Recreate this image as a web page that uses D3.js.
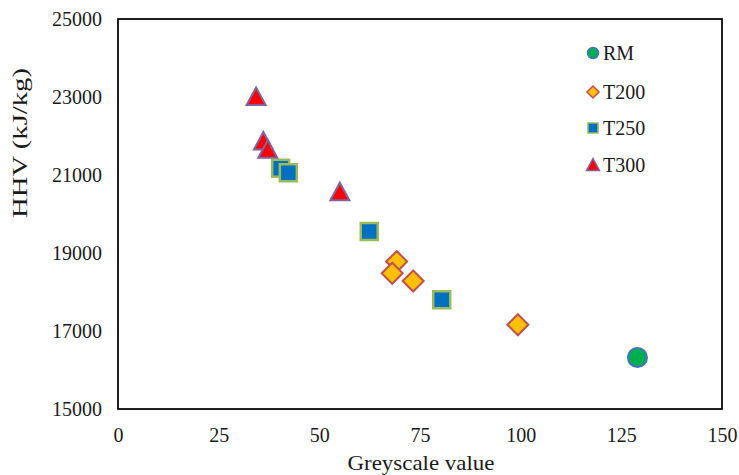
<!DOCTYPE html>
<html>
<head>
<meta charset="utf-8">
<script src="https://cdn.jsdelivr.net/npm/d3@7"></script>
<style>
  body { margin: 0; background: #fff; }
  svg { display: block; font-family: "Liberation Serif", "Times New Roman", serif; }
</style>
</head>
<body>
<svg id="chart" width="739" height="475"></svg>
<script>
// Greyscale value vs higher heating value for raw and torrefied samples
const seriesNames = ["RM", "T200", "T250", "T300"];
const rmX = [129.0];
const rmY = [16320];
const t200X = [99.3, 69.2, 68.1, 73.3];
const t200Y = [17160, 18780, 18480, 18280];
const t250X = [62.4, 80.4, 40.4, 42.3];
const t250Y = [19550, 17800, 21170, 21060];
const t300X = [34.3, 36.1, 37.2, 55.1];
const t300Y = [23000, 21860, 21650, 20560];
const xTicks = [0, 25, 50, 75, 100, 125, 150];
const yTicks = [15000, 17000, 19000, 21000, 23000, 25000];

const svg = d3.select("#chart");
const plotLeft = 118, plotRight = 722, plotTop = 19, plotBottom = 409;

const x = d3.scaleLinear().domain([0, 150]).range([plotLeft, plotRight]);
const y = d3.scaleLinear().domain([15000, 25000]).range([plotBottom, plotTop]);

// marker shape builders (path strings centred on 0,0, r = half-size)
const shapes = {
  circle: r => `M${-r},0A${r},${r} 0 1,0 ${r},0A${r},${r} 0 1,0 ${-r},0Z`,
  diamond: r => `M0,${-r}L${r},0L0,${r}L${-r},0Z`,
  square: r => `M${-r},${-r}H${r}V${r}H${-r}Z`,
  triangle: r => `M0,${-r}L${r},${r * 0.85}L${-r},${r * 0.85}Z`
};

const styles = {
  RM:   { shape: "circle",   fill: "#00B050", stroke: "#4472C4", r: 9.5, lr: 5.5, sw: 2 },
  T200: { shape: "diamond",  fill: "#FFC000", stroke: "#C0504D", r: 10.5, lr: 6, sw: 2 },
  T250: { shape: "square",   fill: "#0070C0", stroke: "#9BBB59", r: 8.5, lr: 5, sw: 2.5 },
  T300: { shape: "triangle", fill: "#FF0000", stroke: "#8064A2", r: 9.5, lr: 6.5, sw: 2 }
};

const seriesData = {
  RM: rmX.map((v, i) => [v, rmY[i]]),
  T200: t200X.map((v, i) => [v, t200Y[i]]),
  T250: t250X.map((v, i) => [v, t250Y[i]]),
  T300: t300X.map((v, i) => [v, t300Y[i]])
};

// plot frame
svg.append("rect")
  .attr("x", plotLeft).attr("y", plotTop)
  .attr("width", plotRight - plotLeft).attr("height", plotBottom - plotTop)
  .attr("fill", "none").attr("stroke", "#000").attr("stroke-width", 1.75);

// axes (labels only, no tick marks)
const xAxis = svg.append("g").attr("transform", `translate(0,${plotBottom})`)
  .call(d3.axisBottom(x).tickValues(xTicks).tickSize(0).tickPadding(19).tickFormat(d3.format("d")));
const yAxis = svg.append("g").attr("transform", `translate(${plotLeft},0)`)
  .call(d3.axisLeft(y).tickValues(yTicks).tickSize(0).tickPadding(16).tickFormat(d3.format("d")));
[xAxis, yAxis].forEach(a => {
  a.select(".domain").remove();
  a.selectAll("text").attr("font-family", "Liberation Serif").attr("font-size", 20).attr("fill", "#1a1a1a");
});

// axis titles
svg.append("text").attr("x", 421).attr("y", 470).attr("text-anchor", "middle")
  .attr("font-size", 22).attr("fill", "#1a1a1a")
  .attr("textLength", 147).attr("lengthAdjust", "spacingAndGlyphs")
  .text("Greyscale value");
svg.append("text").attr("transform", "translate(27,143) rotate(-90)").attr("text-anchor", "middle")
  .attr("font-size", 20).attr("fill", "#1a1a1a")
  .attr("textLength", 150).attr("lengthAdjust", "spacingAndGlyphs")
  .text("HHV (kJ/kg)");

// points, drawn series by series so later series sit on top
seriesNames.forEach(name => {
  const s = styles[name];
  svg.append("g").selectAll("path").data(seriesData[name]).join("path")
    .attr("transform", d => `translate(${x(d[0])},${y(d[1])})`)
    .attr("d", shapes[s.shape](s.r))
    .attr("fill", s.fill).attr("stroke", s.stroke).attr("stroke-width", s.sw)
    .attr("stroke-linejoin", "miter");
});

// legend
const legendY = [53, 92, 128, 165];
const legend = svg.append("g");
seriesNames.forEach((name, i) => {
  const s = styles[name];
  legend.append("path")
    .attr("transform", `translate(593,${legendY[i]})`)
    .attr("d", shapes[s.shape](s.lr))
    .attr("fill", s.fill).attr("stroke", s.stroke).attr("stroke-width", 1.5);
  legend.append("text").attr("x", 603).attr("y", legendY[i]).attr("dy", "0.35em")
    .attr("font-size", 20).attr("fill", "#1a1a1a").text(name);
});
</script>
</body>
</html>
